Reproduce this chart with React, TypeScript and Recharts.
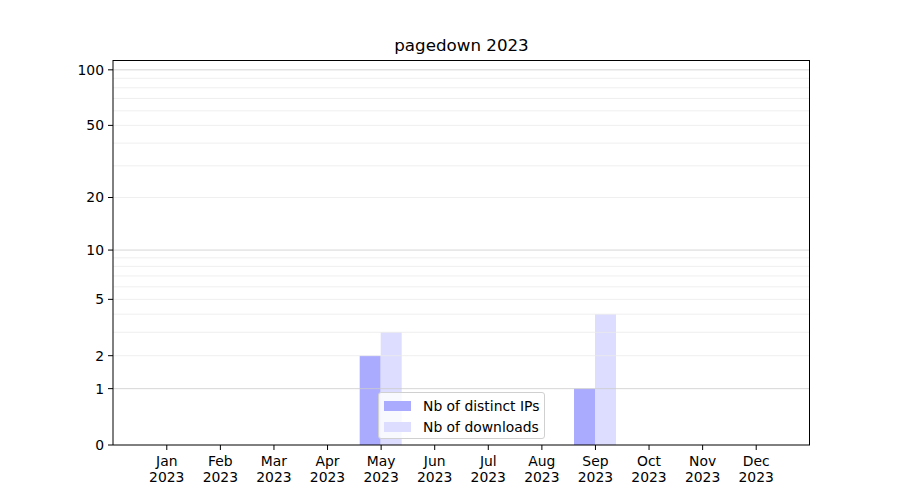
import { Bar, BarChart, ReferenceLine, XAxis, YAxis } from "recharts";

const months = ["Jan", "Feb", "Mar", "Apr", "May", "Jun", "Jul", "Aug", "Sep", "Oct", "Nov", "Dec"];
const year = "2023";
const distinctIps = [0, 0, 0, 0, 2, 0, 0, 0, 1, 0, 0, 0];
const downloads = [0, 0, 0, 0, 3, 0, 0, 0, 4, 0, 0, 0];
const yTicks = [0, 1, 2, 5, 10, 20, 50, 100];
const majorGrid = [1, 10, 100];
const minorGrid = [2, 3, 4, 5, 6, 7, 8, 9, 20, 30, 40, 50, 60, 70, 80, 90];
const yMax = 113;

// the picture's y scale is log10(1 + v)
const tr = (v: number) => Math.log10(1 + v);

const rows = months.map((m, i) => ({
  month: m,
  ips: tr(distinctIps[i]),
  dl: tr(downloads[i]),
}));

const FONT = "'DejaVu Sans', sans-serif";

function MonthTick(props: any) {
  const { x, y, payload } = props;
  return (
    <text x={x} y={y} textAnchor="middle" fill="#000" fontSize={13.9} fontFamily={FONT}>
      <tspan x={x} dy={14}>{payload.value}</tspan>
      <tspan x={x} dy={16}>{year}</tspan>
    </text>
  );
}

function LegendBox() {
  const items = [
    { label: "Nb of distinct IPs", color: "#aaaaff" },
    { label: "Nb of downloads", color: "#ddddff" },
  ];
  return (
    <div
      style={{
        position: "absolute",
        left: 378,
        top: 392,
        boxSizing: "border-box",
        width: 167,
        height: 47,
        background: "rgba(255,255,255,0.8)",
        border: "1px solid #d0d0d0",
        borderRadius: 3,
        padding: "2px 5px",
        fontFamily: FONT,
        fontSize: 13.9,
        color: "#000",
        whiteSpace: "nowrap",
      }}
    >
      {items.map((it) => (
        <div key={it.label} style={{ display: "flex", alignItems: "center", height: 21 }}>
          <span style={{ width: 27, height: 10, background: it.color, marginRight: 12, flex: "none" }} />
          <span>{it.label}</span>
        </div>
      ))}
    </div>
  );
}

export default function App() {
  return (
    <div style={{ position: "absolute", top: 0, left: 0, width: 900, height: 500, background: "#fff", fontFamily: FONT }}>
      <div
        style={{
          position: "absolute",
          top: 35,
          left: 113,
          width: 697,
          textAlign: "center",
          fontSize: 16.7,
          color: "#000",
        }}
      >
        pagedown 2023
      </div>
      <BarChart
        width={900}
        height={500}
        data={rows}
        margin={{ top: 60, right: 90, bottom: 0, left: 0 }}
        barCategoryGap="10%"
        barGap={0}
      >
        <XAxis
          dataKey="month"
          height={55}
          padding={{ left: 27, right: 27 }}
          interval={0}
          tick={<MonthTick />}
          tickSize={5}
          axisLine={{ stroke: "#000" }}
          tickLine={{ stroke: "#000" }}
        />
        <YAxis
          type="number"
          width={113}
          domain={[0, tr(yMax)]}
          ticks={yTicks.map(tr)}
          tickFormatter={(v: number) => String(Math.round(10 ** v - 1))}
          tick={{ fill: "#000", fontSize: 13.9, fontFamily: FONT }}
          tickSize={5}
          tickMargin={4}
          axisLine={{ stroke: "#000" }}
          tickLine={{ stroke: "#000" }}
        />
        <Bar dataKey="ips" fill="#aaaaff" isAnimationActive={false} />
        <Bar dataKey="dl" fill="#ddddff" isAnimationActive={false} />
        {minorGrid.map((v) => (
          <ReferenceLine key={"mi" + v} y={tr(v)} stroke="#ebebeb" strokeWidth={0.8} />
        ))}
        {majorGrid.map((v) => (
          <ReferenceLine key={"ma" + v} y={tr(v)} stroke="#cccccc" strokeWidth={0.8} />
        ))}
      </BarChart>
      {/* top and right spines of the plot box */}
      <div
        style={{
          position: "absolute",
          left: 113,
          top: 60,
          width: 697,
          height: 385,
          boxSizing: "border-box",
          borderTop: "1px solid #000",
          borderRight: "1px solid #000",
          pointerEvents: "none",
        }}
      />
      <LegendBox />
    </div>
  );
}
